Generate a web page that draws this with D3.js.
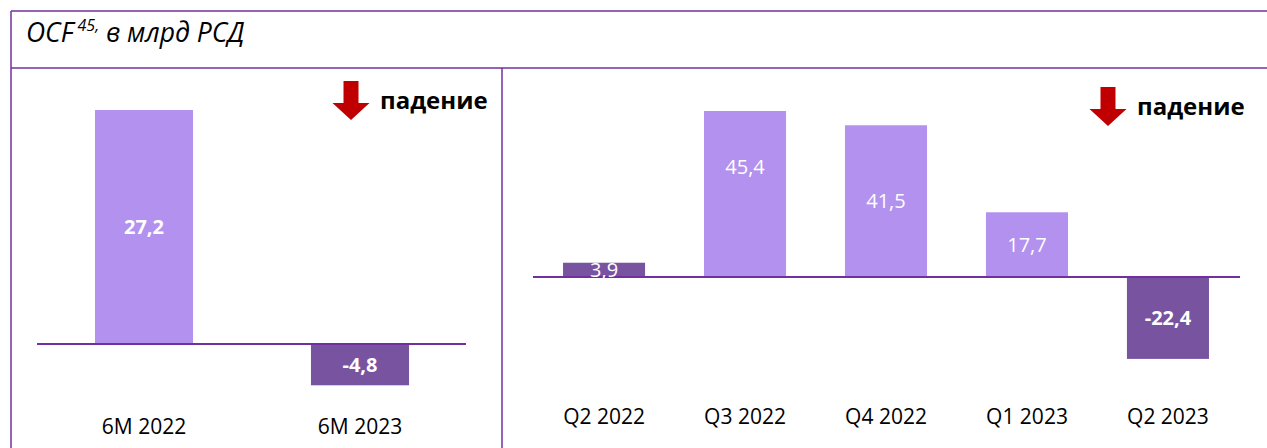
<!doctype html>
<html lang="ru">
<head>
<meta charset="utf-8">
<title>OCF</title>
<style>
  body { margin: 0; background: #ffffff; }
  svg { display: block; font-family: "Open Sans", "Noto Sans", sans-serif; }
</style>
</head>
<body>
<script src="https://d3js.org/d3.v7.min.js"></script>
<script>
// data
var halfYears = ["6M 2022", "6M 2023"];
var halfValues = [27.2, -4.8];
var quarters = ["Q2 2022", "Q3 2022", "Q4 2022", "Q1 2023", "Q2 2023"];
var quarterValues = [3.9, 45.4, 41.5, 17.7, -22.4];

var w = 1267, h = 448;
var lightBar = "#b391ee", darkBar = "#7753a0", frame = "#7030a0", red = "#c00000";

var svg = d3.select("body").append("svg")
  .attr("width", w)
  .attr("height", h);

// frame lines
svg.append("line").attr("x1", 11).attr("x2", w).attr("y1", 11).attr("y2", 11)
  .attr("stroke", frame).attr("stroke-width", 1.5);
svg.append("line").attr("x1", 11).attr("x2", w).attr("y1", 68).attr("y2", 68)
  .attr("stroke", frame).attr("stroke-width", 1.5);
svg.append("line").attr("x1", 11).attr("x2", 11).attr("y1", 11).attr("y2", h)
  .attr("stroke", frame).attr("stroke-width", 1.5);
svg.append("line").attr("x1", 502).attr("x2", 502).attr("y1", 68).attr("y2", h)
  .attr("stroke", frame).attr("stroke-width", 1.5);

// title
var title = svg.append("text").attr("x", 26).attr("y", 42)
  .attr("font-size", 26.5).attr("font-style", "italic").attr("fill", "#000");
title.append("tspan").text("OCF");
title.append("tspan").attr("dy", -11).attr("font-size", 16).text(" 45,");
title.append("tspan").attr("dy", 11).text(" в млрд РСД");

// "падение" marker
function drop(x, y) {
  var g = svg.append("g").attr("transform", "translate(" + x + "," + y + ")");
  g.append("path")
    .attr("d", "M-7.5,0 L7.5,0 L7.5,22 L18.5,22 L0,39 L-18.5,22 L-7.5,22 Z")
    .attr("fill", red);
  g.append("text").attr("x", 29).attr("y", 28)
    .attr("font-size", 24).attr("font-weight", "bold").attr("fill", "#000")
    .text("падение");
}
drop(351, 81);
drop(1108, 87);

function fmt(v) { return String(v).replace(".", ","); }

// one panel
function panel(cats, vals, opts) {
  var x = d3.scaleBand().domain(cats)
    .range(opts.xr).paddingInner(opts.pi).paddingOuter(opts.po);
  var y = d3.scaleLinear().domain([0, opts.topVal]).range([opts.zero, opts.topY]);
  var g = svg.append("g");

  g.selectAll("rect").data(vals).enter().append("rect")
    .attr("x", function(d, i) { return x(cats[i]); })
    .attr("width", x.bandwidth())
    .attr("y", function(d) { return y(Math.max(0, d)); })
    .attr("height", function(d) { return Math.abs(y(d) - y(0)); })
    .attr("fill", function(d, i) { return opts.dark.indexOf(i) >= 0 ? darkBar : lightBar; });

  g.append("line")
    .attr("x1", opts.lineX[0]).attr("x2", opts.lineX[1])
    .attr("y1", y(0)).attr("y2", y(0))
    .attr("stroke", frame).attr("stroke-width", 2);

  g.selectAll("text.val").data(vals).enter().append("text")
    .attr("class", "val")
    .attr("x", function(d, i) { return x(cats[i]) + x.bandwidth() / 2; })
    .attr("y", function(d, i) { return y(d / 2) + (opts.nudge[i] || 0); })
    .attr("dy", "0.35em")
    .attr("text-anchor", "middle")
    .attr("font-size", 20)
    .attr("font-weight", function(d, i) { return opts.bold.indexOf(i) >= 0 ? "bold" : "normal"; })
    .attr("fill", "#fff")
    .text(fmt);

  var axis = d3.axisBottom(x).tickSize(0).tickPadding(0);
  var ax = g.append("g").attr("transform", "translate(0," + opts.labelY + ")").call(axis);
  ax.select(".domain").remove();
  ax.selectAll("text")
    .attr("font-family", "\"Open Sans\", \"Noto Sans\", sans-serif")
    .attr("font-size", 21).attr("fill", "#000").attr("dy", "0.35em");
}

panel(halfYears, halfValues, {
  xr: [36, 468], pi: 0.546, po: 0.273,
  topVal: 27.2, zero: 344, topY: 110,
  lineX: [37, 466], dark: [1], bold: [0, 1], nudge: {},
  labelY: 427
});

panel(quarters, quarterValues, {
  xr: [533, 1239], pi: 0.418, po: 0.213,
  topVal: 45.4, zero: 277, topY: 111,
  lineX: [533, 1240], dark: [0, 4], bold: [4], nudge: {1: -27},
  labelY: 417
});
</script>
</body>
</html>
